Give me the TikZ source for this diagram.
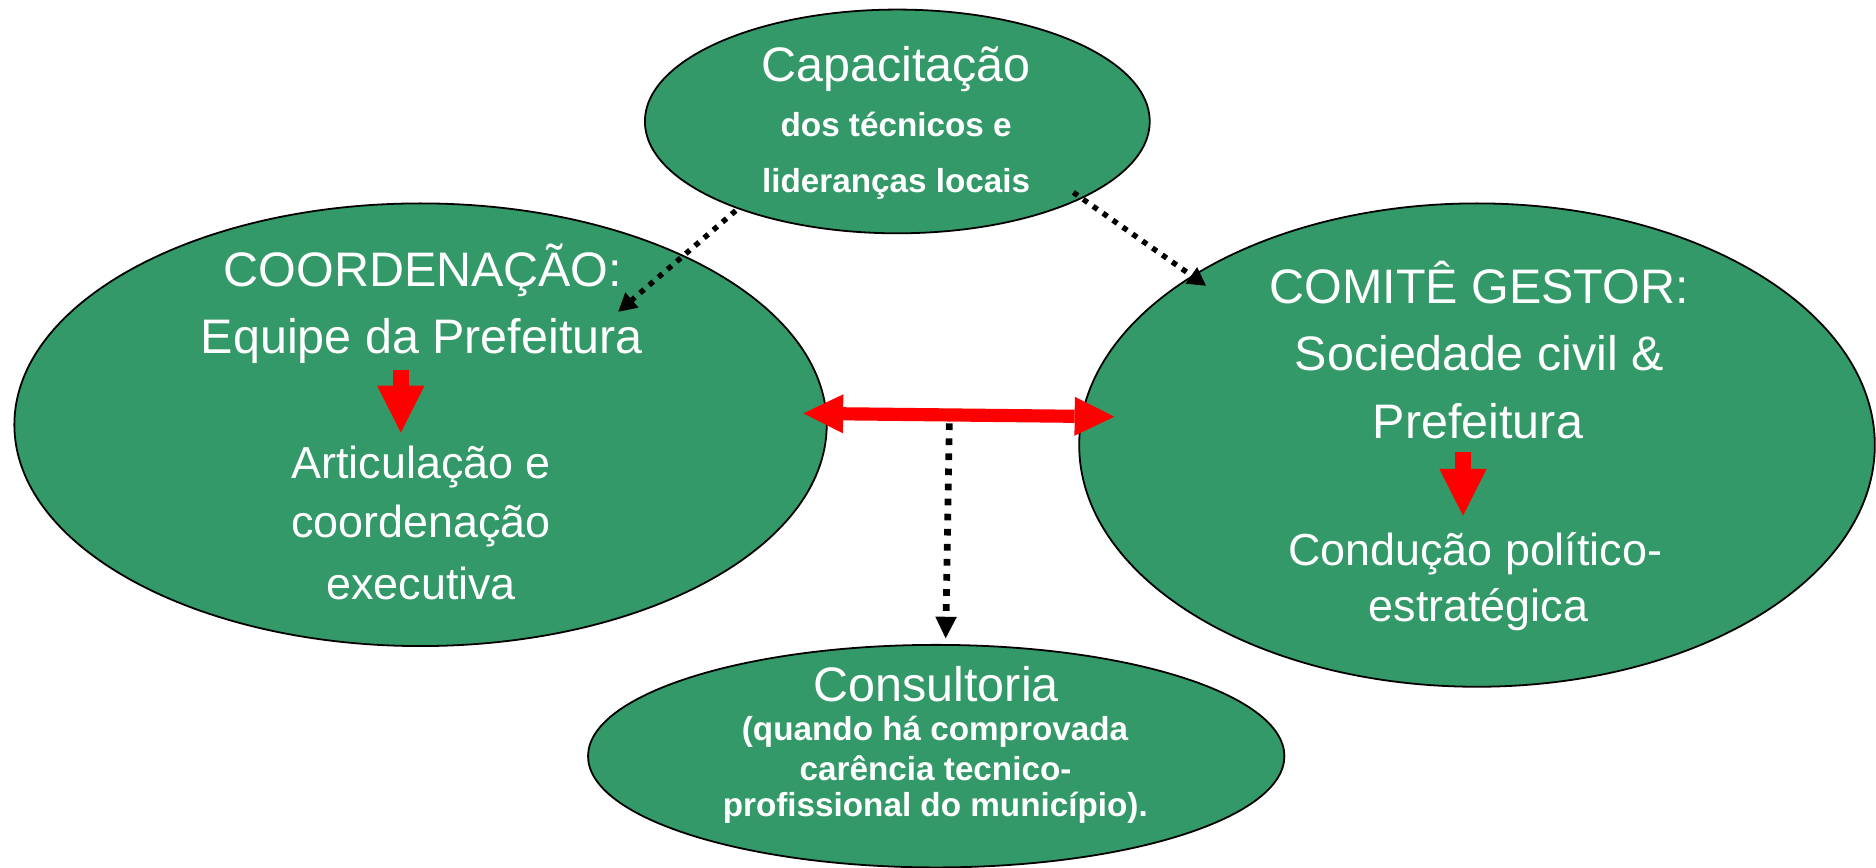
\documentclass[tikz,border=0pt]{standalone}
\usepackage{fontspec}
\setmainfont{Liberation Sans}
\usetikzlibrary{shapes.geometric,arrows.meta}
\definecolor{leaf}{RGB}{52,153,104}
\definecolor{fatred}{RGB}{255,0,0}
\tikzset{
  ell/.style={ellipse, draw=black, line width=1.5, fill=leaf, inner sep=0, outer sep=0},
  big/.style={text=white, anchor=base, inner sep=0, font=\fontsize{40.5}{48}\selectfont},
  mid/.style={text=white, anchor=base, inner sep=0, font=\fontsize{37.5}{45}\selectfont},
  bld/.style={text=white, anchor=base, inner sep=0, font=\bfseries\fontsize{27.8}{33}\selectfont},
  dotsline/.style={line width=4.5, dash pattern=on 4.5 off 5.6, black,
    -{Triangle[length=15pt,width=17pt,line width=0pt]}},
  dotsvert/.style={line width=5.6, dash pattern=on 5.6 off 7, black,
    -{Triangle[length=18pt,width=18pt,line width=0pt]}},
  redfat/.style={fatred, line width=13.4, -{Triangle[length=39.2pt,width=39.6pt,line width=0pt]}},
  reddouble/.style={fatred, line width=11,
    {Triangle[length=33.2pt,width=32.6pt,line width=0pt]}-{Triangle[length=33.2pt,width=32.6pt,line width=0pt]}}
}
\begin{document}
\begin{tikzpicture}[x=1pt,y=-1pt]
\useasboundingbox (0,0) rectangle (1568,725);
% ellipses
\node[ell, minimum width=422, minimum height=187] (cap) at (750,101.5) {};
\node[ell, minimum width=679, minimum height=370] (coord) at (351.5,355) {};
\node[ell, minimum width=665, minimum height=404] (comite) at (1234.5,372) {};
\node[ell, minimum width=582, minimum height=186] (cons) at (782.5,632) {};
% connector end points
\coordinate (ls) at (614.9,176.1);
\coordinate (le) at (516.8,260.5);
\coordinate (rs) at (897.1,160.8);
\coordinate (re) at (1008,238.8);
\coordinate (vs) at (793.5,353.8);
\coordinate (ve) at (790.4,533.5);
\coordinate (dl) at (671.5,345.5);
\coordinate (dr) at (931.4,348.3);
\coordinate (a1s) at (335,309);
\coordinate (a1e) at (335,361.6);
\coordinate (a2s) at (1222.8,378);
\coordinate (a2e) at (1222.8,431);
% dotted connectors
\draw[dotsline] (ls) -- (le);
\draw[dotsline] (rs) -- (re);
\draw[dotsvert] (vs) -- (ve);
% red double arrow
\draw[reddouble] (dl) -- (dr);
% texts: Capacitacao
\node[big] (capT) at (749,68.5) {Capacitação};
\node[bld] (capA) at (749,114) {dos técnicos e};
\node[bld] (capB) at (749,161) {lideranças locais};
% Coordenacao
\node[big] (coT) at (353.5,239.5) {COORDENAÇÃO:};
\node[big] (coA) at (352.5,295.5) {Equipe da Prefeitura};
\node[mid] (coB) at (352,400) {Articulação e};
\node[mid] (coC) at (352,449) {coordenação};
\node[mid] (coD) at (352,501) {executiva};
% Comite
\node[big] (cmT) at (1236.2,253.5) {COMITÊ GESTOR:};
\node[big] (cmA) at (1236.4,309.5) {Sociedade civil \&};
\node[big] (cmB) at (1235.3,366.4) {Prefeitura};
\node[mid] (cmC) at (1233,472.3) {Condução político-};
\node[mid] (cmD) at (1235.7,519.6) {estratégica};
% Consultoria
\node[big] (csT) at (782.5,586.5) {Consultoria};
\node[bld] (csA) at (781.5,619) {(quando há comprovada};
\node[bld] (csB) at (782,652) {carência tecnico-};
\node[bld] (csC) at (781.7,682.6) {profissional do município).};
% inner red arrows
\draw[redfat] (a1s) -- (a1e);
\draw[redfat] (a2s) -- (a2e);
\end{tikzpicture}
\end{document}
